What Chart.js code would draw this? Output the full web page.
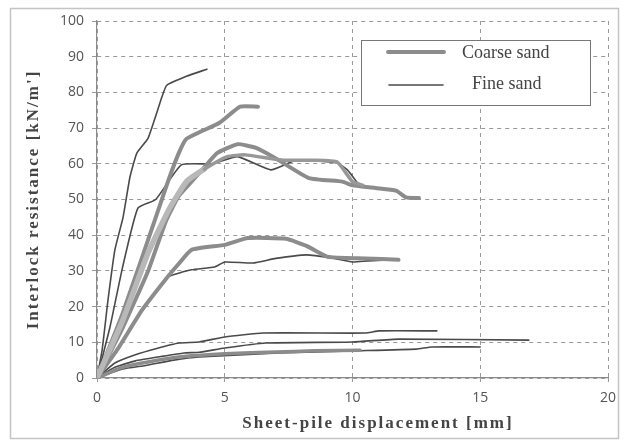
<!DOCTYPE html>
<html>
<head>
<meta charset="utf-8">
<script src="https://cdn.jsdelivr.net/npm/chart.js@4/dist/chart.umd.min.js"></script>
<style>
  html, body { margin: 0; padding: 0; background: #fff; }
  #wrap { width: 628px; height: 443px; }
</style>
</head>
<body>
<div id="wrap"><canvas id="interlockChart" width="628" height="443"></canvas></div>
<script>
// Interlock resistance vs sheet-pile displacement

const xTicks = [0, 5, 10, 15, 20];
const yTicks = [0, 10, 20, 30, 40, 50, 60, 70, 80, 90, 100];
const legendLabels = ['Coarse sand', 'Fine sand'];

// fine sand tests
const fine1X = [0, 0.2, 0.43, 0.7, 1.02, 1.29, 1.56, 2.0, 2.54, 2.73, 3.5, 4.3];
const fine1Y = [0, 7.8, 21.8, 35.9, 45, 56.3, 63, 67.2, 78.7, 82, 84.5, 86.5];
const fine2X = [0, 0.5, 1.0, 1.6, 2.3, 3.3, 4.5, 5.5, 6.8, 7.8, 9.4, 9.8, 10.2];
const fine2Y = [0, 14, 31, 47.6, 50, 59.7, 60, 62, 58.3, 61, 60.2, 58.3, 54.6];
const fine3X = [0, 0.8, 1.6, 2.2, 2.77, 3.7, 4.6, 5.0, 6.1, 7.0, 8.2, 9.2, 10, 10.6, 11.8];
const fine3Y = [0, 8, 17, 23, 28.3, 30.3, 31.1, 32.5, 32.2, 33.5, 34.5, 33.6, 32.5, 32.8, 33.2];
const fine4X = [0, 0.7, 1.5, 2.3, 3.2, 4.0, 5.0, 6.5, 10.5, 11.05, 13.3];
const fine4Y = [0, 4.2, 6.5, 8.2, 9.8, 10.1, 11.5, 12.6, 12.6, 13.2, 13.2];
const fine5X = [0, 0.7, 1.5, 2.5, 3.4, 4.0, 5.0, 6.6, 10, 11.8, 16.9];
const fine5Y = [0, 3, 4.8, 6, 7, 7.2, 8.4, 9.8, 10.1, 10.9, 10.6];
const fine6X = [0, 1, 1.9, 3, 4, 7.1, 10, 12.5, 13.1, 15];
const fine6Y = [0, 2.5, 3.5, 5, 5.9, 7, 7.6, 8.1, 8.7, 8.7];

// coarse sand tests
const coarse1X = [0, 1, 2.3, 2.8, 3.2, 3.5, 4.8, 5.6, 6.3];
const coarse1Y = [0, 18, 45, 55.5, 63, 67, 71.5, 76, 76];
const coarse2X = [0, 1, 2, 2.7, 3.2, 3.7, 4.2, 4.7, 5.5, 6.2, 7.0, 8.3, 9.6, 10.0, 10.9, 11.7, 12.1, 12.6];
const coarse2Y = [0, 14, 30, 44, 51, 55, 59, 63, 65.5, 64.5, 61.5, 56, 55, 54, 53.2, 52.5, 50.6, 50.4];
const coarse3X = [0, 1, 2, 2.8, 3.5, 4.2, 5.1, 5.8, 7.3, 8.5, 9.4, 10.0, 10.4];
const coarse3Y = [0, 16, 35, 47, 55, 58.5, 62, 62.5, 61, 61, 60.5, 55, 54];
const coarse4X = [0, 0.8, 1.76, 2.66, 3.2, 3.7, 5.0, 5.9, 7.4, 8.2, 9.0, 9.8, 10.5, 11.8];
const coarse4Y = [0, 8, 19, 27.4, 32, 35.9, 37.3, 39.2, 39, 37, 34, 33.6, 33.5, 33.1];
const coarse5X = [0, 1, 2, 3.4, 5, 7, 8.5, 10.3];
const coarse5Y = [0, 3, 4.5, 6, 6.8, 7.3, 7.6, 7.8];

const COARSE = '#8c8c8c';
const COARSE_LIGHT = '#b8b8b8';
const FINE = '#4a4a4a';

function pts(xs, ys) {
  return xs.map((x, i) => ({ x: x, y: ys[i] }));
}

function series(xs, ys, color, width) {
  return {
    data: pts(xs, ys),
    borderColor: color,
    borderWidth: width,
    showLine: true,
    pointRadius: 0,
    tension: 0.15,
    borderCapStyle: 'round',
    borderJoinStyle: 'round'
  };
}

// the scan shows this test pale and wide near the origin, darker further on
const paleStart = series(coarse3X, coarse3Y, COARSE, 3.5);
paleStart.segment = {
  borderColor: c => (c.p0.parsed.x < 4.2 ? COARSE_LIGHT : '#989898'),
  borderWidth: c => (c.p0.parsed.x < 4.2 ? 5.5 : 3.5)
};

const datasets = [
  paleStart,
  series(coarse1X, coarse1Y, COARSE, 4),
  series(coarse2X, coarse2Y, COARSE, 4),
  series(coarse4X, coarse4Y, COARSE, 4),
  series(coarse5X, coarse5Y, COARSE, 3.5),
  series(fine1X, fine1Y, FINE, 1.6),
  series(fine2X, fine2Y, FINE, 1.6),
  series(fine3X, fine3Y, FINE, 1.6),
  series(fine4X, fine4Y, FINE, 1.6),
  series(fine5X, fine5Y, FINE, 1.6),
  series(fine6X, fine6Y, FINE, 1.6)
];

// frame, axis titles and the boxed legend
const decorPlugin = {
  id: 'decor',
  beforeDraw(chart) {
    const ctx = chart.ctx;
    ctx.save();
    ctx.fillStyle = '#fff';
    ctx.fillRect(0, 0, chart.width, chart.height);
    ctx.strokeStyle = '#c4c4c4';
    ctx.lineWidth = 1.5;
    ctx.strokeRect(10.5, 8.5, 608, 430);
    ctx.restore();
  },
  afterDraw(chart) {
    const ctx = chart.ctx;
    const area = chart.chartArea;
    ctx.save();
    ctx.fillStyle = '#444';
    ctx.font = 'bold 17px "Liberation Serif"';
    ctx.letterSpacing = '2px';
    ctx.textAlign = 'center';
    ctx.textBaseline = 'middle';
    ctx.fillText('Sheet-pile displacement [mm]', 378, 424);

    ctx.translate(34, (area.top + area.bottom) / 2);
    ctx.rotate(-Math.PI / 2);
    ctx.fillText("Interlock resistance [kN/m']", 0, 0);
    ctx.restore();

    // legend box
    ctx.save();
    ctx.fillStyle = '#fff';
    ctx.fillRect(361, 40, 229, 65);
    ctx.strokeStyle = '#777';
    ctx.lineWidth = 1;
    ctx.strokeRect(361.5, 40.5, 229, 65);

    ctx.lineCap = 'round';
    ctx.strokeStyle = COARSE;
    ctx.lineWidth = 4;
    ctx.beginPath(); ctx.moveTo(388, 52); ctx.lineTo(444, 52); ctx.stroke();
    ctx.strokeStyle = FINE;
    ctx.lineWidth = 1.6;
    ctx.beginPath(); ctx.moveTo(389, 85); ctx.lineTo(443, 85); ctx.stroke();

    ctx.fillStyle = '#444';
    ctx.font = '18px "Liberation Serif"';
    ctx.textBaseline = 'middle';
    ctx.textAlign = 'left';
    ctx.fillText(legendLabels[0], 462, 53);
    ctx.fillText(legendLabels[1], 472, 84);
    ctx.restore();
  }
};

new Chart(document.getElementById('interlockChart'), {
  type: 'scatter',
  data: { datasets: datasets },
  options: {
    responsive: false,
    animation: false,
    layout: { padding: { left: 0, top: 21, right: 20, bottom: 0 } },
    plugins: { legend: { display: false }, tooltip: { enabled: false } },
    scales: {
      x: {
        type: 'linear',
        min: 0,
        max: 20,
        afterBuildTicks: s => { s.ticks = xTicks.map(v => ({ value: v })); },
        afterFit: s => { s.height = 65; },
        grid: { color: '#9a9a9a', lineWidth: 1, tickLength: 4, drawTicks: true },
        border: { display: true, color: '#8a8a8a', width: 1.2, dash: [4, 4] },
        ticks: { color: '#555', font: { family: 'Open Sans', size: 14 }, padding: 8, maxRotation: 0 }
      },
      y: {
        type: 'linear',
        min: 0,
        max: 100,
        afterBuildTicks: s => { s.ticks = yTicks.map(v => ({ value: v })); },
        afterFit: s => { s.width = 97; },
        grid: { color: '#9a9a9a', lineWidth: 1, tickLength: 5, drawTicks: true },
        border: { display: true, color: '#8a8a8a', width: 1.2, dash: [4, 4] },
        ticks: { color: '#555', font: { family: 'Open Sans', size: 14 }, padding: 8 }
      }
    }
  },
  plugins: [decorPlugin]
});
</script>
</body>
</html>
